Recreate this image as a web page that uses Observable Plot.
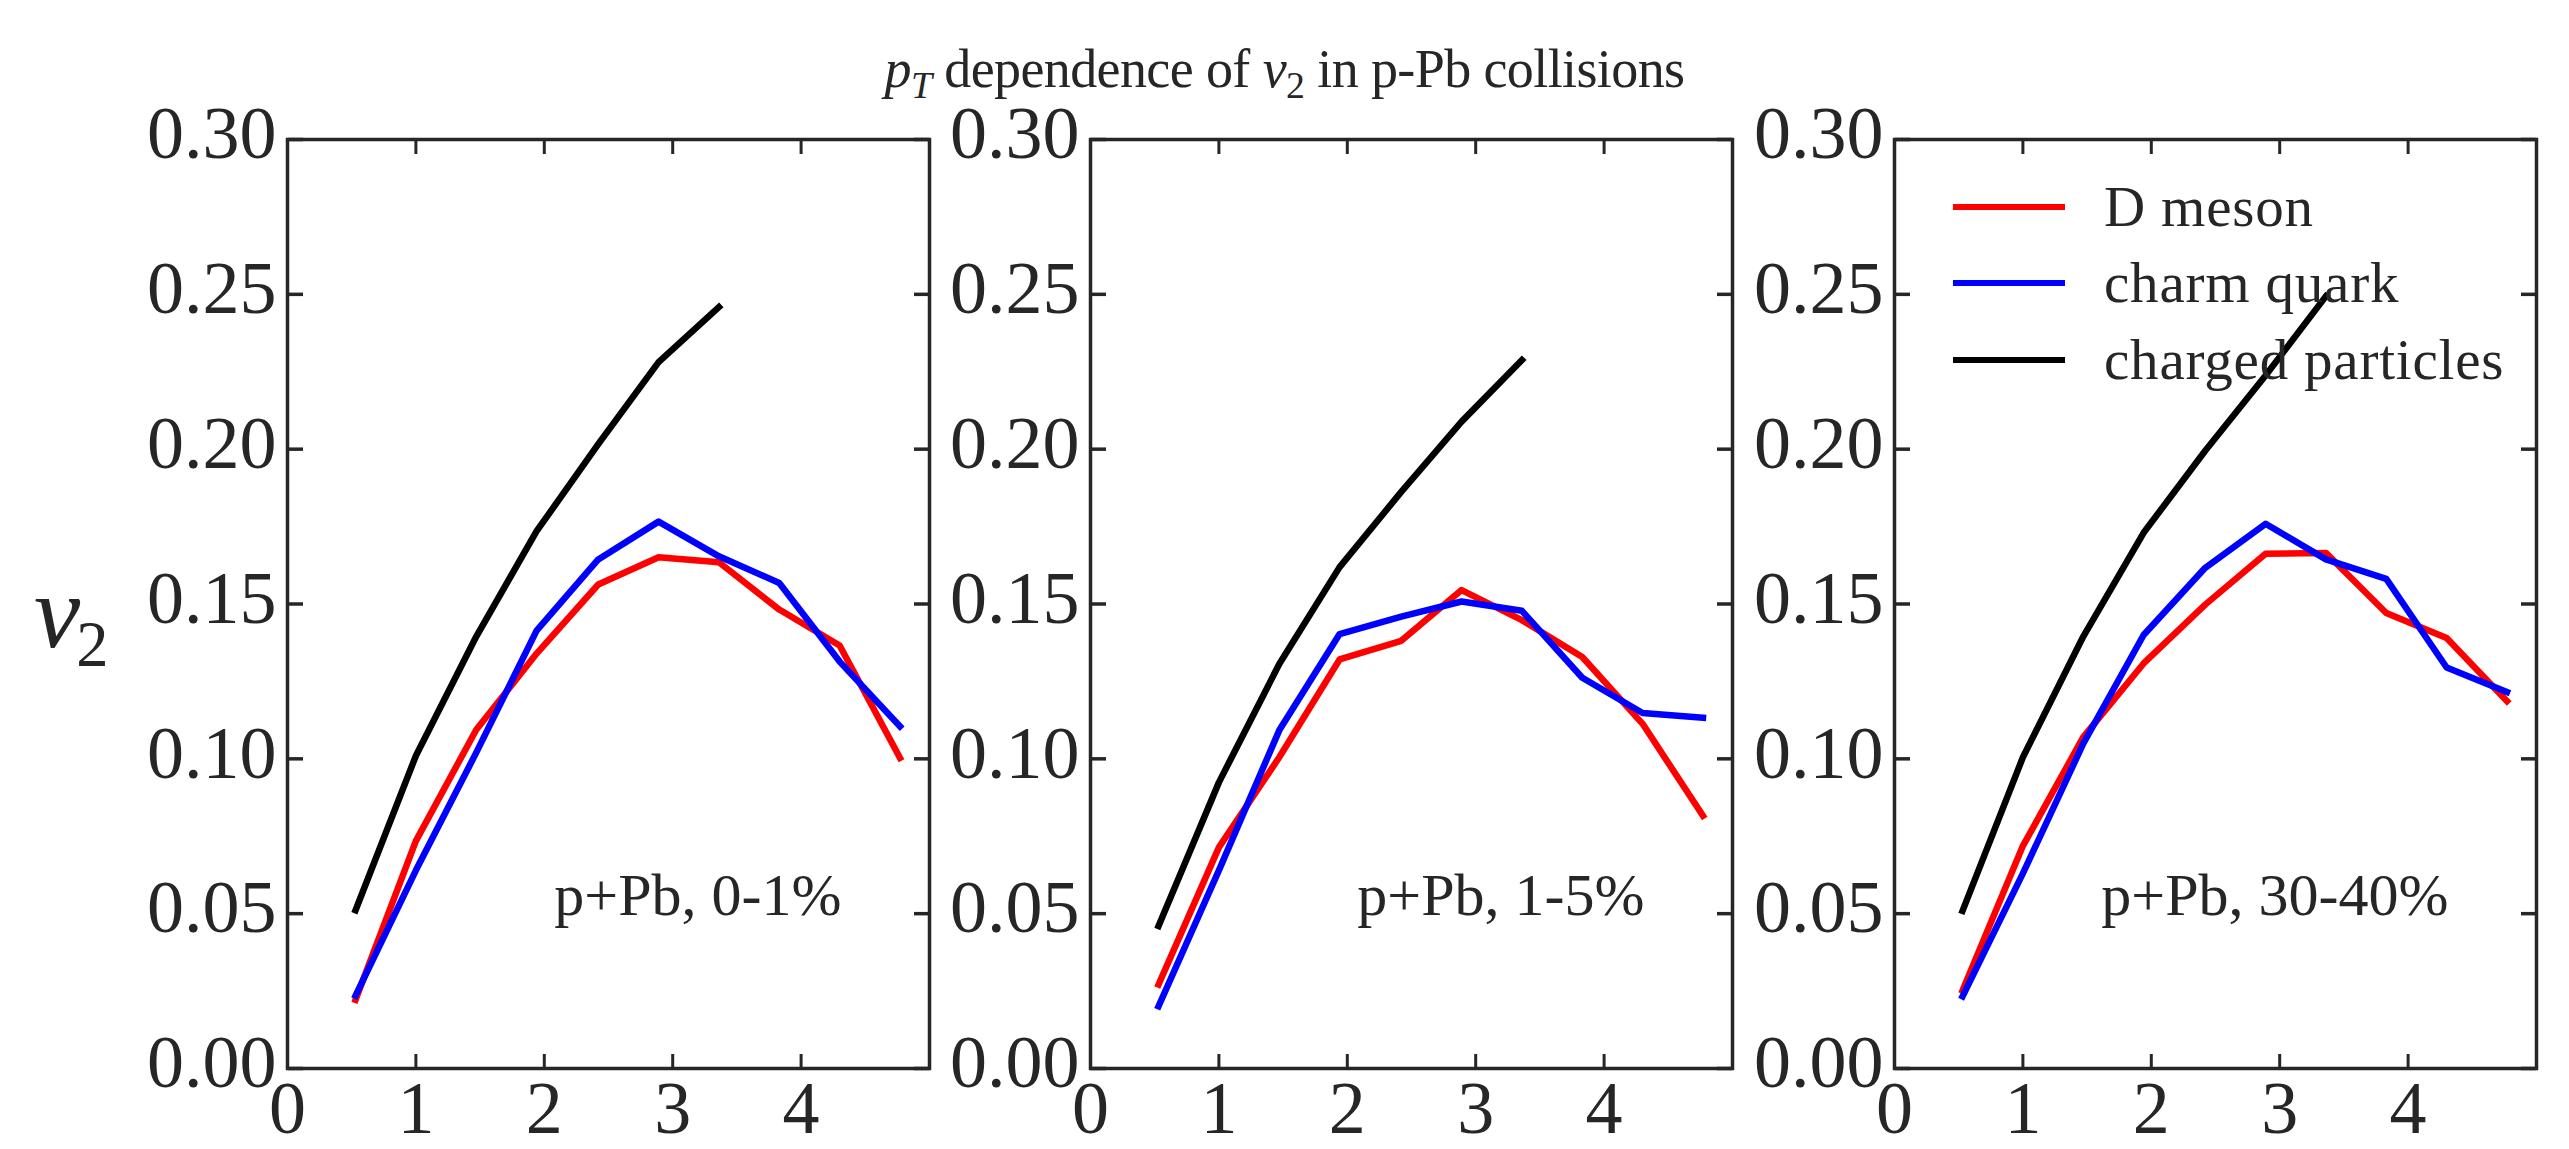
<!DOCTYPE html>
<html><head><meta charset="utf-8">
<script src="https://cdn.jsdelivr.net/npm/d3@7"></script>
<script src="https://cdn.jsdelivr.net/npm/@observablehq/plot@0.6"></script>
<style>
html,body{margin:0;padding:0;background:#fff;}
#fig{position:relative;width:2569px;height:1149px;overflow:hidden;font-family:"Liberation Serif",serif;color:#262626;background:#fff;}
.panel{position:absolute;}
#title{position:absolute;left:0;width:2569px;text-align:center;font-size:54px;line-height:54px;top:42px;white-space:nowrap;letter-spacing:-0.6px;}
.sub{font-size:0.7em;position:relative;top:0.28em;}
#ylabel{position:absolute;left:34px;top:560px;font-size:104px;line-height:104px;white-space:nowrap;}
#ylabel .sub{font-size:0.62em;top:0.3em;margin-left:-0.06em;}
.legline{position:absolute;height:6px;width:112px;}
.legtext{position:absolute;font-size:57px;line-height:57px;letter-spacing:0.8px;white-space:nowrap;}
</style></head><body><div id="fig"></div>
<script>
// ---- data ----
const ptBins = [0.53, 1.0, 1.47, 1.94, 2.42, 2.89, 3.36, 3.83, 4.30, 4.77];
const panelLabels = ["p+Pb, 0-1%", "p+Pb, 1-5%", "p+Pb, 30-40%"];
const seriesNames = ["D meson", "charm quark", "charged particles"];
const seriesColors = ["#ff0000", "#0000ff", "#000000"];
const xTicks = [0, 1, 2, 3, 4];
const yTicks = [0, 0.05, 0.10, 0.15, 0.20, 0.25, 0.30];

const dMeson = [
  [0.0222, 0.0735, 0.1094, 0.1340, 0.1563, 0.1651, 0.1635, 0.1482, 0.1366, 0.1003],
  [0.0271, 0.0714, 0.1005, 0.1321, 0.1381, 0.1545, 0.1448, 0.1329, 0.1113, 0.0816],
  [0.0252, 0.0719, 0.1070, 0.1308, 0.1498, 0.1662, 0.1665, 0.1471, 0.1390, 0.1186]
];
const charmQuark = [
  [0.0235, 0.0640, 0.1020, 0.1414, 0.1644, 0.1766, 0.1654, 0.1568, 0.1314, 0.1105],
  [0.0201, 0.0640, 0.1092, 0.1403, 0.1459, 0.1508, 0.1478, 0.1262, 0.1148, 0.1133],
  [0.0233, 0.0630, 0.1049, 0.1400, 0.1617, 0.1759, 0.1644, 0.1581, 0.1295, 0.1216]
];
const chargedParticles = [
  [0.0511, 0.1010, 0.1395, 0.1735, 0.2016, 0.2281, 0.2459],
  [0.0460, 0.0924, 0.1306, 0.1619, 0.1862, 0.2089, 0.2288],
  [0.0509, 0.1005, 0.1395, 0.1730, 0.1995, 0.2238, 0.2494]
];

// ---- layout ----
const frameLefts = [287, 1090, 1894];
const frameTop = 139;
const mL = 150, mR = 20, mT = 60, mB = 80, fw = 642, fh = 929;
const ink = "#262626";
const serif = "Liberation Serif, serif";
const fig = document.getElementById("fig");

function rowsFor(p) {
  const rows = [];
  [dMeson, charmQuark, chargedParticles].forEach((s, k) =>
    s[p].forEach((v, j) => rows.push({pt: ptBins[j], v2: v, series: seriesNames[k]})));
  return rows;
}

panelLabels.forEach((lab, p) => {
  const chart = Plot.plot({
    width: mL + fw + mR, height: mT + fh + mB,
    marginLeft: mL, marginRight: mR, marginTop: mT, marginBottom: mB,
    style: {background: "transparent", overflow: "visible", fontFamily: serif, color: ink},
    x: {domain: [0, 5], label: null},
    y: {domain: [0, 0.3], label: null},
    color: {domain: seriesNames, range: seriesColors},
    marks: [
      Plot.line(rowsFor(p), {x: "pt", y: "v2", z: "series", stroke: "series", strokeWidth: 6.5, strokeLinecap: "square", strokeLinejoin: "round"}),
      Plot.text([lab], {text: d => d, frameAnchor: "bottom-right", textAnchor: "end", lineAnchor: "middle", dx: -88, dy: -173, fontSize: 60, fontFamily: serif, fill: ink, letterSpacing: 1.5}),
      // inward ticks
      Plot.axisY({ticks: yTicks, anchor: "right", frameAnchor: "left", tickSize: 15, strokeWidth: 3.5, stroke: ink, tickFormat: () => "", label: null}),
      Plot.axisY({ticks: yTicks, anchor: "left", frameAnchor: "right", tickSize: 15, strokeWidth: 3.5, stroke: ink, tickFormat: () => "", label: null}),
      Plot.axisX({ticks: xTicks, anchor: "top", frameAnchor: "bottom", tickSize: 15, strokeWidth: 3, stroke: ink, tickFormat: () => "", label: null}),
      Plot.axisX({ticks: xTicks, anchor: "bottom", frameAnchor: "top", tickSize: 15, strokeWidth: 3, stroke: ink, tickFormat: () => "", label: null}),
      // labels
      Plot.axisY({ticks: yTicks, anchor: "left", tickSize: 0, tickPadding: 11, tickFormat: d3.format(".2f"), fontSize: 74, fontFamily: serif, dy: -5, fill: ink, label: null}),
      Plot.axisX({ticks: xTicks, anchor: "bottom", tickSize: 0, tickPadding: 12, tickFormat: d3.format("d"), fontSize: 74, fontFamily: serif, fill: ink, label: null}),
      Plot.frame({stroke: ink, strokeWidth: 3.5})
    ]
  });
  chart.classList.add("panel");
  chart.style.left = (frameLefts[p] - mL) + "px";
  chart.style.top = (frameTop - mT) + "px";
  fig.appendChild(chart);
});

// ---- title, y label, legend ----
const title = document.createElement("div");
title.id = "title";
title.innerHTML = '<i>p</i><span class="sub"><i>T</i></span> dependence of <i>v</i><span class="sub">2</span> in p-Pb collisions';
fig.appendChild(title);

const ylab = document.createElement("div");
ylab.id = "ylabel";
ylab.innerHTML = '<i>v</i><span class="sub">2</span>';
fig.appendChild(ylab);

const legRows = [207, 283, 360];
seriesNames.forEach((name, k) => {
  const ln = document.createElement("div");
  ln.className = "legline";
  ln.style.left = "1953px";
  ln.style.top = (legRows[k] - 3) + "px";
  ln.style.background = seriesColors[k];
  fig.appendChild(ln);
  const tx = document.createElement("div");
  tx.className = "legtext";
  tx.style.left = "2104px";
  tx.style.top = (legRows[k] - 29) + "px";
  tx.textContent = name;
  fig.appendChild(tx);
});
</script>
</body></html>
